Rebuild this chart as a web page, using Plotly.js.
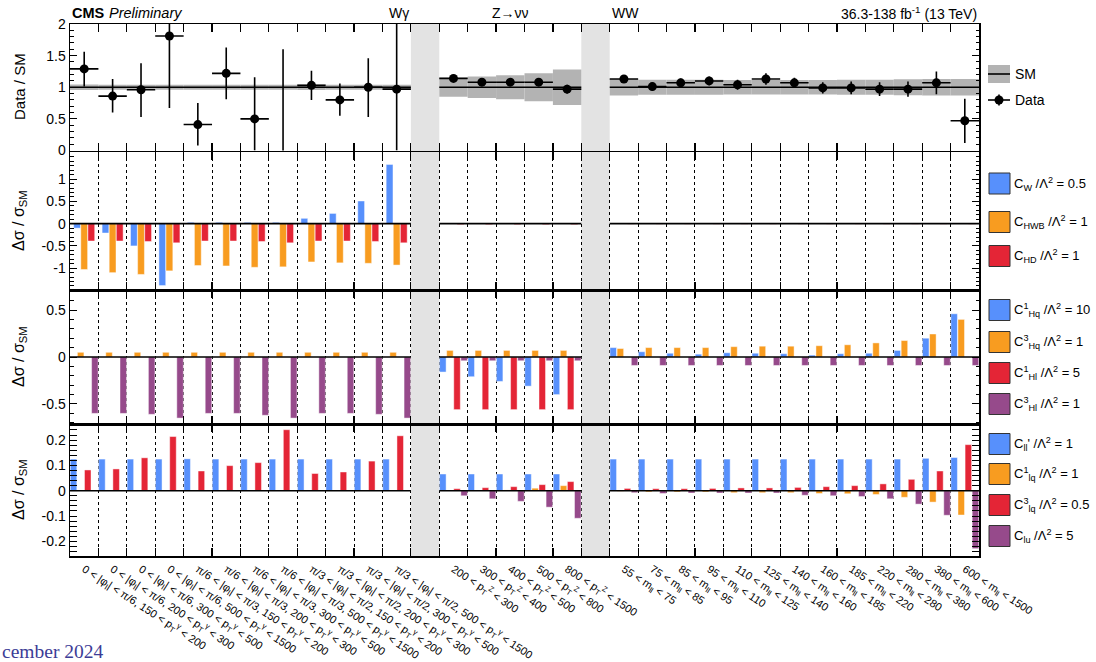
<!DOCTYPE html>
<html>
<head>
<meta charset="utf-8">
<script src="https://cdn.plot.ly/plotly-3.0.1.min.js"></script>
<style>
html, body { margin: 0; padding: 0; background: #fff; }
#chart { width: 1096px; height: 662px; }
</style>
</head>
<body>
<div id="chart"></div>
<script>
// ---- Measurement regions -------------------------------------------------
const regionNames = ['Wγ', 'Z→νν', 'WW'];
const regionSizes = [12, 5, 13];

// ---- Bin labels ----------------------------------------------------------
const wgLabels = [
  '0 &lt; |φ<sub>l</sub>| &lt; π/6, 150 &lt; p<sub>T</sub><sup>γ</sup> &lt; 200',
  '0 &lt; |φ<sub>l</sub>| &lt; π/6, 200 &lt; p<sub>T</sub><sup>γ</sup> &lt; 300',
  '0 &lt; |φ<sub>l</sub>| &lt; π/6, 300 &lt; p<sub>T</sub><sup>γ</sup> &lt; 500',
  '0 &lt; |φ<sub>l</sub>| &lt; π/6, 500 &lt; p<sub>T</sub><sup>γ</sup> &lt; 1500',
  'π/6 &lt; |φ<sub>l</sub>| &lt; π/3, 150 &lt; p<sub>T</sub><sup>γ</sup> &lt; 200',
  'π/6 &lt; |φ<sub>l</sub>| &lt; π/3, 200 &lt; p<sub>T</sub><sup>γ</sup> &lt; 300',
  'π/6 &lt; |φ<sub>l</sub>| &lt; π/3, 300 &lt; p<sub>T</sub><sup>γ</sup> &lt; 500',
  'π/6 &lt; |φ<sub>l</sub>| &lt; π/3, 500 &lt; p<sub>T</sub><sup>γ</sup> &lt; 1500',
  'π/3 &lt; |φ<sub>l</sub>| &lt; π/2, 150 &lt; p<sub>T</sub><sup>γ</sup> &lt; 200',
  'π/3 &lt; |φ<sub>l</sub>| &lt; π/2, 200 &lt; p<sub>T</sub><sup>γ</sup> &lt; 300',
  'π/3 &lt; |φ<sub>l</sub>| &lt; π/2, 300 &lt; p<sub>T</sub><sup>γ</sup> &lt; 500',
  'π/3 &lt; |φ<sub>l</sub>| &lt; π/2, 500 &lt; p<sub>T</sub><sup>γ</sup> &lt; 1500'
];
const zLabels = [
  '200 &lt; p<sub>T</sub><sup>Z</sup> &lt; 300',
  '300 &lt; p<sub>T</sub><sup>Z</sup> &lt; 400',
  '400 &lt; p<sub>T</sub><sup>Z</sup> &lt; 500',
  '500 &lt; p<sub>T</sub><sup>Z</sup> &lt; 800',
  '800 &lt; p<sub>T</sub><sup>Z</sup> &lt; 1500'
];
const wwLabels = [
  '55 &lt; m<sub>ll</sub> &lt; 75', '75 &lt; m<sub>ll</sub> &lt; 85', '85 &lt; m<sub>ll</sub> &lt; 95',
  '95 &lt; m<sub>ll</sub> &lt; 110', '110 &lt; m<sub>ll</sub> &lt; 125', '125 &lt; m<sub>ll</sub> &lt; 140',
  '140 &lt; m<sub>ll</sub> &lt; 160', '160 &lt; m<sub>ll</sub> &lt; 185', '185 &lt; m<sub>ll</sub> &lt; 220',
  '220 &lt; m<sub>ll</sub> &lt; 280', '280 &lt; m<sub>ll</sub> &lt; 380', '380 &lt; m<sub>ll</sub> &lt; 600',
  '600 &lt; m<sub>ll</sub> &lt; 1500'
];

// ---- Data / SM ratio (Wγ, Z→νν, WW bins in order) -------------------------
const ratio     = [1.29, 0.86, 0.96, 1.81, 0.41, 1.22, 0.50, -0.20, 1.03, 0.80, 1.00, 0.97,
                   1.14, 1.08, 1.08, 1.08, 0.97,
                   1.13, 1.01, 1.07, 1.10, 1.04, 1.13, 1.07, 0.99, 0.99, 0.97, 0.97, 1.07, 0.47];
const ratioUp   = [0.27, 0.27, 0.42, 0.50, 0.34, 0.41, 0.66, 1.80, 0.23, 0.26, 0.46, 1.20,
                   0.04, 0.04, 0.04, 0.05, 0.07,
                   0.06, 0.065, 0.07, 0.07, 0.08, 0.09, 0.08, 0.09, 0.10, 0.11, 0.12, 0.18, 0.35];
const ratioDown = [0.28, 0.26, 0.43, 1.14, 0.33, 0.41, 0.50, 0.20, 0.23, 0.25, 0.47, 0.97,
                   0.04, 0.04, 0.04, 0.05, 0.07,
                   0.06, 0.065, 0.07, 0.07, 0.08, 0.09, 0.08, 0.09, 0.10, 0.11, 0.12, 0.18, 0.35];
// SM prediction uncertainty (relative)
const smUnc     = [0.045, 0.04, 0.04, 0.04, 0.04, 0.04, 0.04, 0.04, 0.045, 0.04, 0.04, 0.04,
                   0.15, 0.17, 0.19, 0.22, 0.28,
                   0.13, 0.12, 0.12, 0.12, 0.115, 0.115, 0.115, 0.115, 0.12, 0.12, 0.125, 0.13, 0.13];

// ---- Relative shifts Δσ/σ_SM for each Wilson coefficient ------------------
const cW    = [-0.10, -0.21, -0.50, -1.39, 0.03, 0.03, 0.03, 0.03, 0.12, 0.23, 0.51, 1.33,
               0, 0, 0, 0, 0,
               0, 0, 0, 0, 0, 0, 0, 0, 0, 0, 0.01, 0.01, 0.01];
const cHWB  = [-1.03, -1.10, -1.14, -1.06, -0.94, -0.95, -0.98, -0.97, -0.86, -0.88, -0.89, -0.93,
               0.01, 0.01, 0.01, 0.01, 0.01,
               0, 0, 0, 0, 0, 0, 0, 0, 0, 0, 0, 0, 0];
const cHD   = [-0.39, -0.39, -0.40, -0.43, -0.39, -0.39, -0.40, -0.43, -0.39, -0.39, -0.40, -0.43,
               -0.02, -0.02, -0.02, -0.02, -0.02,
               -0.01, -0.01, -0.01, -0.01, -0.01, -0.01, -0.01, -0.01, -0.01, -0.01, -0.01, -0.01, -0.01];

const cHq1  = [0, 0, 0, 0, 0, 0, 0, 0, 0, 0, 0, 0,
               -0.16, -0.21, -0.26, -0.31, -0.40,
               0.10, 0.056, 0.04, 0.03, 0.045, 0.04, 0.035, 0.02, 0.035, 0.04, 0.07, 0.20, 0.46];
const cHq3  = [0.05, 0.05, 0.05, 0.05, 0.05, 0.05, 0.05, 0.05, 0.05, 0.05, 0.05, 0.05,
               0.07, 0.07, 0.07, 0.07, 0.07,
               0.09, 0.10, 0.10, 0.10, 0.11, 0.115, 0.115, 0.12, 0.13, 0.15, 0.175, 0.245, 0.40];
const cHl1  = [0, 0, 0, 0, 0, 0, 0, 0, 0, 0, 0, 0,
               -0.56, -0.56, -0.56, -0.56, -0.56,
               0, 0, 0, 0, 0, 0, 0, 0, 0, 0, 0, 0, 0];
const cHl3  = [-0.60, -0.60, -0.61, -0.65, -0.60, -0.60, -0.62, -0.65, -0.60, -0.60, -0.61, -0.65,
               -0.04, -0.04, -0.04, -0.04, -0.04,
               -0.09, -0.09, -0.09, -0.09, -0.09, -0.09, -0.09, -0.09, -0.09, -0.09, -0.09, -0.09, -0.09];

const cllp  = [0.125, 0.125, 0.125, 0.125, 0.126, 0.125, 0.125, 0.125, 0.125, 0.125, 0.125, 0.125,
               0.066, 0.066, 0.066, 0.066, 0.066,
               0.125, 0.125, 0.125, 0.125, 0.125, 0.125, 0.125, 0.125, 0.125, 0.125, 0.125, 0.128, 0.131];
const clq1  = [0, 0, 0, 0, 0, 0, 0, 0, 0, 0, 0, 0,
               0.002, 0.002, 0.003, 0.01, 0.02,
               -0.002, -0.005, -0.005, -0.005, -0.008, -0.008, -0.008, -0.011, -0.012, -0.015, -0.026, -0.045, -0.096];
const clq3  = [0.082, 0.086, 0.130, 0.214, 0.078, 0.099, 0.111, 0.241, 0.068, 0.074, 0.117, 0.217,
               0.008, 0.012, 0.016, 0.024, 0.036,
               0.009, 0.008, 0.008, 0.009, 0.011, 0.011, 0.013, 0.016, 0.020, 0.027, 0.045, 0.078, 0.182];
const clu   = [0, 0, 0, 0, 0, 0, 0, 0, 0, 0, 0, 0,
               -0.020, -0.032, -0.042, -0.065, -0.109,
               -0.008, -0.011, -0.009, -0.009, -0.009, -0.009, -0.018, -0.020, -0.023, -0.032, -0.053, -0.097, -0.229];

// ---- Bin geometry on a common x scale (one unit per bin, one-unit gaps) ---
const binStart = [];
const regionStart = [];
const regionEnd = [];
let cursor = 0;
regionSizes.forEach((n, r) => {
  regionStart.push(cursor);
  for (let i = 0; i < n; i++) binStart.push(cursor + i);
  regionEnd.push(cursor + n);
  cursor += n + (r < regionSizes.length - 1 ? 1 : 0);
});
const xMax = cursor;
const binCenter = binStart.map(s => s + 0.5);
const edges = [];
regionStart.forEach((s, r) => { for (let e = s; e <= regionEnd[r]; e++) if (!edges.includes(e)) edges.push(e); });
const allLabels = wgLabels.concat(zLabels, wwLabels);

const COL = { blue: '#5790fc', orange: '#f89c20', red: '#e42536', purple: '#964a8b' };
const FONT = 'Liberation Sans, Arial, Helvetica, sans-serif';

// line through each region at a constant level
function regionLine(level, xa, ya, width) {
  const xs = [], ys = [];
  regionStart.forEach((s, r) => { xs.push(s, regionEnd[r], null); ys.push(level, level, null); });
  return { type: 'scatter', mode: 'lines', x: xs, y: ys, xaxis: xa, yaxis: ya,
           line: { color: '#000', width: width }, hoverinfo: 'skip', showlegend: false };
}

const traces = [];

// SM uncertainty band
traces.push({
  type: 'bar', x: binCenter, base: smUnc.map(u => 1 - u), y: smUnc.map(u => 2 * u),
  width: 1, marker: { color: '#b3b3b3', line: { width: 0 } },
  xaxis: 'x', yaxis: 'y', hoverinfo: 'skip', showlegend: false
});
traces.push(regionLine(1, 'x', 'y', 1.6));
// Data points
traces.push({
  type: 'scatter', mode: 'markers', x: binCenter, y: ratio,
  error_y: { type: 'data', symmetric: false, array: ratioUp, arrayminus: ratioDown,
             color: '#000', thickness: 1.6, width: 0 },
  error_x: { type: 'constant', value: 0.5, color: '#000', thickness: 1.6, width: 0 },
  marker: { color: '#000', size: 9 },
  xaxis: 'x', yaxis: 'y', cliponaxis: true, showlegend: false
});

// Coefficient panels
const tint = 'rgba(255,255,255,0.45)';
const panels = [
  { xa: 'x2', ya: 'y2', slots: [0.25, 0.5, 0.75], width: 0.24,
    series: [[cW, COL.blue], [cHWB, COL.orange], [cHD, COL.red]] },
  { xa: 'x3', ya: 'y3', slots: [0.125, 0.375, 0.625, 0.875], width: 0.23,
    series: [[cHq1, COL.blue], [cHq3, COL.orange], [cHl1, COL.red], [cHl3, COL.purple]] },
  { xa: 'x4', ya: 'y4', slots: [0.125, 0.375, 0.625, 0.875], width: 0.23,
    series: [[cllp, COL.blue], [clq1, COL.orange], [clq3, COL.red], [clu, COL.purple]] }
];
panels.forEach(p => {
  p.series.forEach(([vals, color], k) => {
    traces.push({
      type: 'bar', x: binStart.map(s => s + p.slots[k]), y: vals, width: p.width,
      marker: { color: color, line: { color: tint, width: 1 } },
      xaxis: p.xa, yaxis: p.ya, hoverinfo: 'skip', showlegend: false
    });
  });
  traces.push(regionLine(0, p.xa, p.ya, 1.6));
});

// carrier for the bin-label axis
traces.push({ type: 'scatter', mode: 'markers', x: binCenter, y: binCenter.map(() => 0),
  marker: { opacity: 0 }, xaxis: 'x5', yaxis: 'y4', hoverinfo: 'skip', showlegend: false });

// ---- Layout --------------------------------------------------------------
const M = { l: 70, r: 117, t: 24, b: 106 };
const W = 1096 - M.l - M.r, H = 662 - M.t - M.b;
const px = x => (x - M.l) / W;
const py = y => (M.t + H - y) / H;

const frame = { showline: true, linecolor: '#000', linewidth: 1.5, mirror: 'allticks',
                ticks: 'inside', tickcolor: '#000', zeroline: false };
function xAxis(anchor, grid) {
  return Object.assign({}, frame, {
    anchor: anchor, domain: [0, 1], range: [0, xMax], tickmode: 'array', tickvals: edges,
    ticklen: 8, tickwidth: 1.2, showticklabels: false,
    showgrid: grid, gridcolor: '#000', gridwidth: 1, griddash: 'dot'
  });
}
function yAxis(anchor, dom, range, vals, minorStep) {
  return Object.assign({}, frame, {
    anchor: anchor, domain: dom, range: range, tickmode: 'array', tickvals: vals,
    ticktext: vals.map(v => String(v)), ticklen: 7, tickwidth: 1,
    minor: { dtick: minorStep, ticklen: 3.5, ticks: 'inside', tickcolor: '#000', tickwidth: 1 },
    tickfont: { family: FONT, size: 14, color: '#000' }, showgrid: false
  });
}

const yTop = [py(150.5), 1], y2d = [py(290), py(152)], y3d = [py(424), py(290)], y4d = [0, py(424)];

const legendItems = [
  { y: 183.5, color: COL.blue,   text: 'C<sub>W</sub> /Λ<sup>2</sup> = 0.5' },
  { y: 222,   color: COL.orange, text: 'C<sub>HWB</sub> /Λ<sup>2</sup> = 1' },
  { y: 256,   color: COL.red,    text: 'C<sub>HD</sub> /Λ<sup>2</sup> = 1' },
  { y: 310,   color: COL.blue,   text: 'C<sup>1</sup><sub>Hq</sub> /Λ<sup>2</sup> = 10' },
  { y: 342,   color: COL.orange, text: 'C<sup>3</sup><sub>Hq</sub> /Λ<sup>2</sup> = 1' },
  { y: 373,   color: COL.red,    text: 'C<sup>1</sup><sub>Hl</sub> /Λ<sup>2</sup> = 5' },
  { y: 404,   color: COL.purple, text: 'C<sup>3</sup><sub>Hl</sub> /Λ<sup>2</sup> = 1' },
  { y: 444,   color: COL.blue,   text: 'C<sub>ll</sub>\' /Λ<sup>2</sup> = 1' },
  { y: 474,   color: COL.orange, text: 'C<sup>1</sup><sub>lq</sub> /Λ<sup>2</sup> = 1' },
  { y: 505,   color: COL.red,    text: 'C<sup>3</sup><sub>lq</sub> /Λ<sup>2</sup> = 0.5' },
  { y: 536,   color: COL.purple, text: 'C<sub>lu</sub> /Λ<sup>2</sup> = 5' }
];

const shapes = [];
// gaps between the measurements
for (let r = 0; r < regionSizes.length - 1; r++) {
  shapes.push({ type: 'rect', xref: 'x', yref: 'paper', x0: regionEnd[r], x1: regionStart[r + 1],
                y0: 0, y1: 1, fillcolor: '#e3e3e3', line: { width: 0 }, layer: 'below' });
}
// legend symbols
const bx0 = px(988), bx1 = px(1010);
shapes.push({ type: 'rect', xref: 'paper', yref: 'paper', x0: bx0, x1: bx1, y0: py(83), y1: py(65),
              fillcolor: '#b3b3b3', line: { width: 0 } });
shapes.push({ type: 'line', xref: 'paper', yref: 'paper', x0: bx0, x1: bx1, y0: py(74), y1: py(74),
              line: { color: '#000', width: 1.6 } });
shapes.push({ type: 'line', xref: 'paper', yref: 'paper', x0: bx0, x1: bx1, y0: py(100), y1: py(100),
              line: { color: '#000', width: 1.6 } });
shapes.push({ type: 'line', xref: 'paper', yref: 'paper', x0: px(999), x1: px(999), y0: py(105.5), y1: py(94.5),
              line: { color: '#000', width: 1.6 } });
shapes.push({ type: 'circle', xref: 'paper', yref: 'paper', x0: px(994.5), x1: px(1003.5), y0: py(104.5), y1: py(95.5),
              fillcolor: '#000', line: { color: '#000', width: 0 } });
legendItems.forEach(it => {
  shapes.push({ type: 'rect', xref: 'paper', yref: 'paper', x0: px(989), x1: px(1010),
                y0: py(it.y + 10.5), y1: py(it.y - 10.5), fillcolor: it.color,
                line: { color: '#333', width: 1 } });
});

const ann = [];
const txt = (x, y, text, opts) => Object.assign({
  xref: 'paper', yref: 'paper', x: px(x), y: py(y), text: text, showarrow: false,
  xanchor: 'left', yanchor: 'middle', font: { family: FONT, size: 14, color: '#000' }
}, opts || {});

ann.push(txt(70, 13, '<b>CMS</b>', { font: { family: FONT, size: 14.5, color: '#000' } }));
ann.push(txt(107, 13, '<i>Preliminary</i>', { font: { family: FONT, size: 14.5, color: '#000' } }));
ann.push(txt(979, 13, '36.3-138 fb<sup>-1</sup> (13 TeV)', { xanchor: 'right' }));
// measurement names above their regions
const nameAnchor = ['right', 'center', 'left'];
regionNames.forEach((n, r) => {
  const xr = nameAnchor[r] === 'right' ? regionEnd[r] : nameAnchor[r] === 'left' ? regionStart[r]
           : (regionStart[r] + regionEnd[r]) / 2;
  ann.push({ xref: 'x', yref: 'paper', x: xr, y: py(13), text: n, showarrow: false,
             xanchor: nameAnchor[r], yanchor: 'middle', font: { family: FONT, size: 14, color: '#000' } });
});
// y titles
ann.push(txt(19, 87, 'Data / SM', { textangle: -90, xanchor: 'center', font: { family: FONT, size: 15, color: '#000' } }));
[221, 357, 490].forEach(yc => {
  ann.push(txt(19, yc, 'Δσ / σ<sub>SM</sub>', { textangle: -90, xanchor: 'center',
           font: { family: FONT, size: 16, color: '#000' } }));
});
// legend labels
ann.push(txt(1013, 74, 'SM'));
ann.push(txt(1013, 100, 'Data'));
legendItems.forEach(it => {
  ann.push(txt(1012, it.y, it.text, { font: { family: FONT, size: 13, color: '#000' } }));
});
// page footer
ann.push(txt(0, 651, 'cember 2024', { font: { family: 'Liberation Serif, DejaVu Serif, serif', size: 19.5, color: '#3c3c96' } }));

const layout = {
  width: 1096, height: 662, margin: M,
  paper_bgcolor: '#fff', plot_bgcolor: 'rgba(0,0,0,0)',
  barmode: 'overlay', showlegend: false, font: { family: FONT, color: '#000' },
  xaxis: xAxis('y', false),
  xaxis2: xAxis('y2', true),
  xaxis3: xAxis('y3', true),
  xaxis4: xAxis('y4', true),
  xaxis5: {
    overlaying: 'x4', anchor: 'y4', range: [0, xMax], tickmode: 'array',
    tickvals: binCenter, ticktext: allLabels, tickangle: 33, ticks: '',
    ticklabelstandoff: 4,
    showline: false, showgrid: false, zeroline: false, automargin: false,
    tickfont: { family: FONT, size: 11, color: '#000' }
  },
  yaxis: yAxis('x', yTop, [0, 2], [0, 0.5, 1, 1.5, 2], 0.1),
  yaxis2: yAxis('x2', y2d, [-1.49, 1.61], [-1, -0.5, 0, 0.5, 1], 0.1),
  yaxis3: yAxis('x3', y3d, [-0.713, 0.713], [-0.5, 0, 0.5], 0.1),
  yaxis4: yAxis('x4', y4d, [-0.258, 0.2636], [-0.2, -0.1, 0, 0.1, 0.2], 0.02),
  shapes: shapes,
  annotations: ann
};

Plotly.newPlot('chart', traces, layout, { displayModeBar: false, staticPlot: true });
</script>
</body>
</html>
